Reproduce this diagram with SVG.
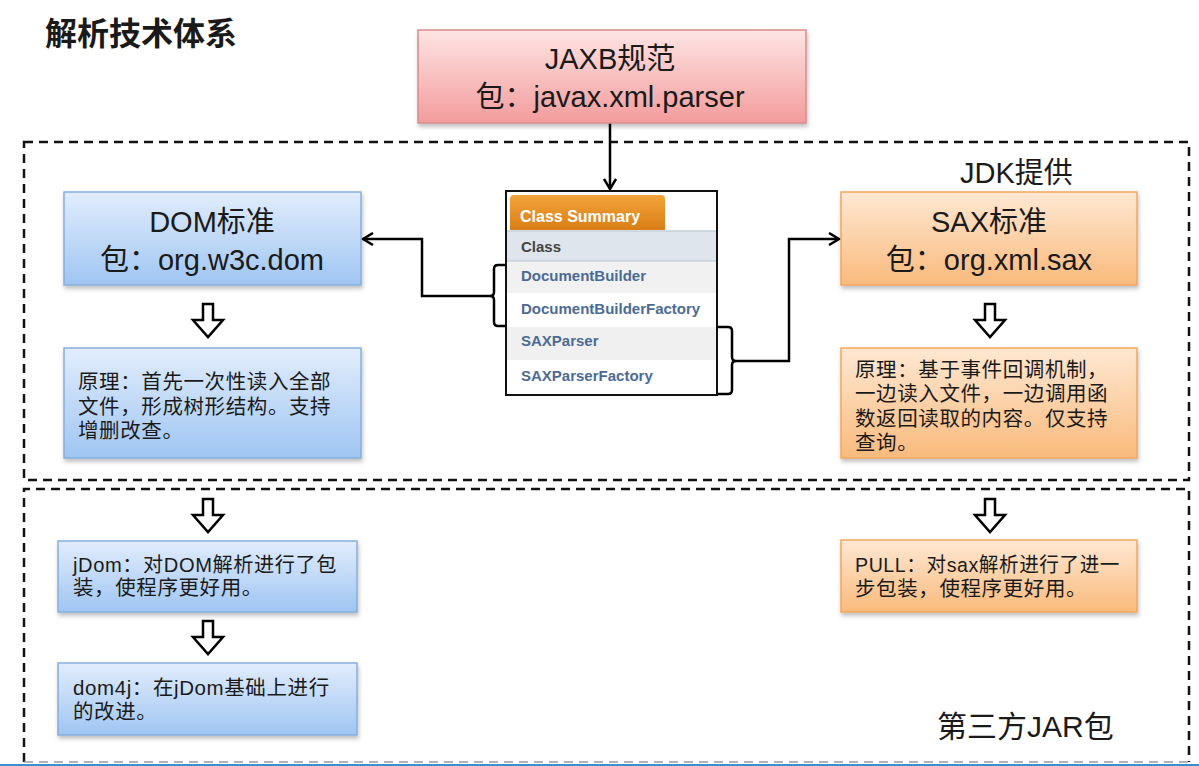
<svg xmlns="http://www.w3.org/2000/svg" width="1199" height="766" viewBox="0 0 1199 766">
<style>
.t{font-family:"Liberation Sans","Noto Sans CJK SC",sans-serif;fill:#1a1a1a}
.big{font-size:29px}
.mid{font-size:20.5px;letter-spacing:0.6px}
.cls{font-family:"Liberation Sans",Arial,sans-serif;font-size:15px;font-weight:bold;fill:#4c6b94}
.dash{fill:none;stroke:#111;stroke-width:2.5;stroke-dasharray:9 6}
.conn{fill:none;stroke:#000;stroke-width:2.5}
.hol{fill:#fff;stroke:#000;stroke-width:2.5;stroke-linejoin:miter}
.blue{fill:url(#gb);stroke:#86aede;stroke-width:1.5}
.org{fill:url(#go);stroke:#f2a65e;stroke-width:1.5}
</style>
<defs>
<linearGradient id="gb" x1="0" y1="0" x2="0" y2="1"><stop offset="0" stop-color="#e2edfc"/><stop offset="1" stop-color="#9fc5f2"/></linearGradient>
<linearGradient id="go" x1="0" y1="0" x2="0" y2="1"><stop offset="0" stop-color="#fee8d3"/><stop offset="1" stop-color="#f9ba7c"/></linearGradient>
<linearGradient id="gp" x1="0" y1="0" x2="0" y2="1"><stop offset="0" stop-color="#fde4e4"/><stop offset="1" stop-color="#f39c9c"/></linearGradient>
<linearGradient id="gt" x1="0" y1="0" x2="0" y2="1"><stop offset="0" stop-color="#f2a43a"/><stop offset="1" stop-color="#d97e16"/></linearGradient>
<filter id="sh" x="-5%" y="-5%" width="112%" height="125%"><feDropShadow dx="1" dy="3" stdDeviation="2" flood-color="#000" flood-opacity="0.25"/></filter>
<marker id="ah" viewBox="0 0 14 14" refX="12" refY="7" markerWidth="14" markerHeight="14" markerUnits="userSpaceOnUse" orient="auto"><path d="M2,1 L12,7 L2,13" fill="none" stroke="#000" stroke-width="2.5"/></marker>
<path id="hd" d="M-5,0 h10 v16 h10 L0,33 L-15,16 h10 z"/>
</defs>
<rect width="1199" height="766" fill="#fff"/>

<g id="title"><text class="t" x="45" y="45" font-size="32" font-weight="bold">解析技术体系</text></g>

<g id="regions">
<rect class="dash" x="24" y="142" width="1165" height="338"/>
<path class="dash" d="M24,762 V489 H1189 V762"/>
<line x1="24" y1="762" x2="1189" y2="762" stroke="#9a9a9a" stroke-width="1.5" stroke-dasharray="9 6"/>
<line x1="0" y1="765" x2="1199" y2="765" stroke="#3a8fd0" stroke-width="2"/>
<text class="t big" x="960" y="183">JDK提供</text>
<text class="t" x="937" y="737" font-size="30">第三方JAR包</text>
</g>

<g id="connectors">
<line class="conn" x1="610" y1="123" x2="610" y2="189" marker-end="url(#ah)"/>
<path class="conn" d="M506,265 H498 Q494,265 494,269 V292 Q494,296 490,296 Q494,296 494,300 V322 Q494,326 498,326 H506"/>
<path class="conn" d="M490,296 H422 V239 H363" marker-end="url(#ah)"/>
<path class="conn" d="M717,327 H728 Q732,327 732,331 V357 Q732,361 736,361 Q732,361 732,365 V390 Q732,394 728,394 H717"/>
<path class="conn" d="M736,361 H789 V239 H839" marker-end="url(#ah)"/>
<use href="#hd" class="hol" x="208" y="304"/>
<use href="#hd" class="hol" x="990" y="304"/>
<use href="#hd" class="hol" x="208" y="499"/>
<use href="#hd" class="hol" x="208" y="621"/>
<use href="#hd" class="hol" x="990" y="499"/>
</g>

<g id="jaxb">
<rect x="418" y="30" width="388" height="93" fill="url(#gp)" stroke="#d98c8c" stroke-width="1.5" filter="url(#sh)"/>
<text class="t big" x="610" y="69" text-anchor="middle">JAXB规范</text>
<text class="t big" x="610" y="107" text-anchor="middle">包：javax.xml.parser</text>
</g>

<g id="classSummary">
<rect x="506" y="191" width="211" height="204" fill="#fff" stroke="#111" stroke-width="2"/>
<path d="M510,230 V199 Q510,195 514,195 H661 Q665,195 665,199 V230 Z" fill="url(#gt)"/>
<text x="520" y="222" font-family="Liberation Sans,Arial,sans-serif" font-size="16" font-weight="bold" fill="#fff">Class Summary</text>
<rect x="507" y="231" width="209" height="30" fill="#dfe5ec"/>
<line x1="507" y1="231" x2="716" y2="231" stroke="#c5cfda" stroke-width="1.5"/>
<line x1="507" y1="261" x2="716" y2="261" stroke="#c5cfda" stroke-width="1.5"/>
<rect x="507" y="262" width="209" height="31" fill="#f1f1f1"/>
<rect x="507" y="327" width="209" height="33" fill="#f0f0f0"/>
<text x="521" y="252" font-family="Liberation Sans,Arial,sans-serif" font-size="15" font-weight="bold" fill="#444">Class</text>
<text class="cls" x="521" y="281">DocumentBuilder</text>
<text class="cls" x="521" y="314">DocumentBuilderFactory</text>
<text class="cls" x="521" y="346">SAXParser</text>
<text class="cls" x="521" y="381">SAXParserFactory</text>
</g>

<g id="dom">
<rect class="blue" x="64" y="192" width="297" height="93" filter="url(#sh)"/>
<text class="t big" x="212" y="232" text-anchor="middle">DOM标准</text>
<text class="t big" x="212" y="270" text-anchor="middle">包：org.w3c.dom</text>
</g>

<g id="domDesc">
<rect class="blue" x="64" y="348" width="297" height="110" filter="url(#sh)"/>
<text class="t mid" x="78" y="389">原理：首先一次性读入全部</text>
<text class="t mid" x="78" y="414">文件，形成树形结构。支持</text>
<text class="t mid" x="78" y="438">增删改查。</text>
</g>

<g id="sax">
<rect class="org" x="841" y="192" width="296" height="93" filter="url(#sh)"/>
<text class="t big" x="989" y="232" text-anchor="middle">SAX标准</text>
<text class="t big" x="989" y="270" text-anchor="middle">包：org.xml.sax</text>
</g>

<g id="saxDesc">
<rect class="org" x="841" y="348" width="296" height="110" filter="url(#sh)"/>
<text class="t mid" x="855" y="377">原理：基于事件回调机制，</text>
<text class="t mid" x="855" y="401">一边读入文件，一边调用函</text>
<text class="t mid" x="855" y="426">数返回读取的内容。仅支持</text>
<text class="t mid" x="855" y="450">查询。</text>
</g>

<g id="jdom">
<rect class="blue" x="58" y="541" width="299" height="71" filter="url(#sh)"/>
<text class="t mid" x="73" y="572" textLength="264" lengthAdjust="spacingAndGlyphs">jDom：对DOM解析进行了包</text>
<text class="t mid" x="73" y="595">装，使程序更好用。</text>
</g>

<g id="dom4j">
<rect class="blue" x="58" y="663" width="299" height="72" filter="url(#sh)"/>
<text class="t mid" x="73" y="695">dom4j：在jDom基础上进行</text>
<text class="t mid" x="73" y="719">的改进。</text>
</g>

<g id="pull">
<rect class="org" x="841" y="540" width="296" height="72" filter="url(#sh)"/>
<text class="t mid" x="855" y="572" textLength="265" lengthAdjust="spacingAndGlyphs">PULL：对sax解析进行了进一</text>
<text class="t mid" x="855" y="596">步包装，使程序更好用。</text>
</g>
</svg>
